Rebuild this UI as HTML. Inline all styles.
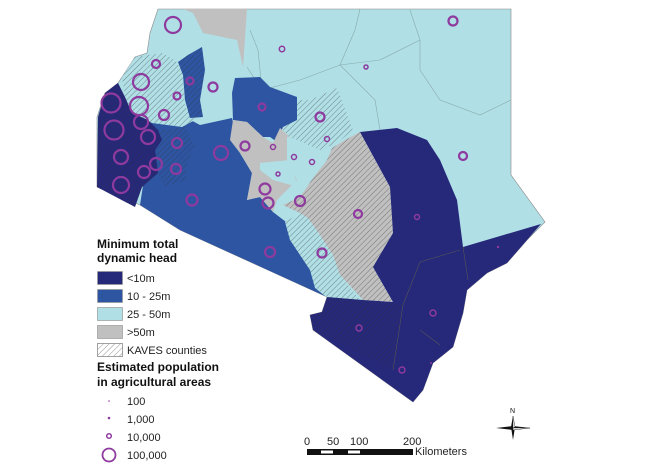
<!DOCTYPE html>
<html><head><meta charset="utf-8"><style>
html,body{margin:0;padding:0;background:#fff}
svg{display:block}
text{font-family:"Liberation Sans",Arial,sans-serif}
</style></head><body>
<svg width="646" height="470" viewBox="0 0 646 470" xmlns="http://www.w3.org/2000/svg">
<defs>
<pattern id="h" width="4" height="4" patternUnits="userSpaceOnUse" patternTransform="rotate(45)">
<line x1="0" y1="0" x2="0" y2="4" stroke="#333" stroke-width="0.7" opacity="0.75"/>
</pattern>
</defs>
<!-- base light blue outline -->
<path d="M158,9 L511,9 L511,175 L545,222 L527,240 L507,263 L487,273 L467,290 L463,313 L453,347 L433,363 L423,390 L413,402 L313,330 L310,315 L322,312 L327,297 L180,230 L140,205 L97,187 L97,117 L105,93 L118,83 L122,77 L135,57 L147,53 L150,33 Z" fill="#b0dfe6" stroke="#888" stroke-width="0.6"/>
<!-- internal county lines north -->
<g fill="none" stroke="#8aa" stroke-width="0.6">
<path d="M247,67 L262,90 L300,80 L340,65 L380,60 L420,40 L410,10"/>
<path d="M340,65 L375,100 L380,130"/>
<path d="M420,40 L420,70 L440,100 L480,115 L511,100"/>
<path d="M360,9 L355,30 L340,65"/>
<path d="M262,90 L258,50 L250,30"/>
</g>
<!-- gray top -->
<path d="M183,9 L247,9 L243,67 L237,40 L203,33 L193,13 Z" fill="#c0c0c0"/>
<!-- medium blue big south -->
<path d="M150,140 L200,128 L232,118 L240,153 L252,173 L247,200 L260,197 L273,212 L290,225 L300,250 L312,272 L327,297 L180,230 L140,205 Z" fill="#2e55a2"/>
<!-- Laikipia medium blue -->
<path d="M232,93 L235,78 L260,77 L270,87 L297,97 L297,120 L283,127 L277,142 L270,137 L263,137 L247,122 L233,120 Z" fill="#2e55a2"/>
<!-- west region medium blue (behind hatch) -->
<path d="M150,120 L185,117 L200,125 L232,118 L233,128 L200,140 L188,160 L185,180 L165,187 L150,190 Z" fill="#2e55a2"/>
<!-- central gray -->
<path d="M233,120 L247,122 L263,137 L273,143 L280,128 L290,137 L287,160 L297,180 L290,187 L277,200 L273,212 L260,197 L247,200 L252,173 L240,153 L230,140 Z" fill="#c0c0c0"/>
<!-- light blue pockets -->
<path d="M260,163 L290,160 L298,187 L273,180 L260,170 Z" fill="#b0dfe6"/>
<path d="M287,137 L313,140 L327,170 L307,180 L287,160 Z" fill="#b0dfe6"/>
<!-- gray hatched Kitui/Machakos -->
<path d="M283,205 L300,197 L313,178 L327,160 L332,148 L345,140 L360,132 L390,187 L393,233 L373,267 L393,302 L363,300 L340,275 L320,235 L300,213 Z" fill="#c0c0c0"/>
<path d="M283,205 L300,197 L313,178 L327,160 L332,148 L345,140 L360,132 L390,187 L393,233 L373,267 L393,302 L363,300 L340,275 L320,235 L300,213 Z" fill="url(#h)"/>
<!-- Makueni hatched light blue -->
<path d="M285,222 L300,213 L308,218 L320,235 L333,255 L340,275 L360,300 L330,300 L315,288 L310,270 L300,255 L290,240 Z" fill="#b0dfe6"/>
<path d="M285,222 L300,213 L308,218 L320,235 L333,255 L340,275 L360,300 L330,300 L315,288 L310,270 L300,255 L290,240 Z" fill="url(#h)"/>
<!-- northern hatched light blue (Meru etc.) -->
<path d="M280,127 L297,120 L297,100 L310,100 L337,88 L353,130 L337,143 L320,150 L290,137 Z" fill="url(#h)"/>
<!-- coast navy -->
<path d="M360,132 L397,128 L427,140 L440,160 L457,200 L463,247 L541,224 L527,240 L507,263 L487,273 L467,290 L463,313 L453,347 L433,363 L423,390 L413,402 L313,330 L310,315 L322,312 L327,297 L363,300 L393,302 L373,267 L393,233 L390,187 Z" fill="#26287a"/>
<!-- Taita Taveta hatched navy -->
<path d="M327,297 L363,300 L403,305 L393,370 L313,330 L310,315 L322,312 Z" fill="url(#h)"/>
<g fill="none" stroke="#555" stroke-width="0.6">
<path d="M403,305 L420,262 L460,250 M463,247 L468,280 M403,305 L393,370 M420,330 L440,345"/>
</g>
<!-- west: light hatched Trans Nzoia etc -->
<path d="M122,77 L135,57 L162,53 L175,60 L182,70 L185,107 L195,120 L182,127 L152,123 L132,113 L125,97 Z" fill="#b0dfe6"/>
<path d="M122,77 L135,57 L162,53 L175,60 L182,70 L185,107 L195,120 L182,127 L152,123 L132,113 L125,97 Z" fill="url(#h)"/>
<!-- stripe medium hatched -->
<path d="M178,62 L188,55 L202,47 L205,70 L200,100 L203,117 L190,118 L185,100 L183,75 Z" fill="#2e55a2"/>
<path d="M178,62 L188,55 L202,47 L205,70 L200,100 L203,117 L190,118 L185,100 L183,75 Z" fill="url(#h)"/>
<!-- Kisii etc medium hatched -->
<path d="M158,130 L185,127 L195,147 L188,160 L185,180 L165,187 L158,173 L155,150 Z" fill="url(#h)"/>
<!-- dark navy lake -->
<path d="M98,117 L105,93 L118,83 L125,97 L132,113 L148,120 L158,130 L162,140 L155,150 L158,173 L142,187 L135,207 L97,187 Z" fill="#26287a"/>
<path d="M98,117 L105,93 L118,83 L125,97 L132,113 L148,120 L158,130 L162,140 L155,150 L158,173 L142,187 L135,207 L97,187 Z" fill="url(#h)"/>
<!-- circles -->
<g fill="none" stroke="#8e3a9e" stroke-width="2.2">
<circle cx="173" cy="25" r="8"/><circle cx="156" cy="64" r="4"/><circle cx="141" cy="82" r="8"/>
<circle cx="111" cy="103" r="9.5"/><circle cx="139" cy="106" r="9"/><circle cx="141" cy="122" r="7"/>
<circle cx="114" cy="130" r="9.5"/><circle cx="148" cy="137" r="7"/><circle cx="164" cy="115" r="5"/>
<circle cx="177" cy="96" r="3.5"/><circle cx="190" cy="81" r="3.5"/><circle cx="213" cy="87" r="4.5"/>
<circle cx="262" cy="107" r="3.5"/><circle cx="177" cy="143" r="5"/><circle cx="121" cy="157" r="7"/>
<circle cx="156" cy="164" r="6"/><circle cx="144" cy="172" r="6"/><circle cx="176" cy="169" r="5"/>
<circle cx="121" cy="185" r="8"/><circle cx="192" cy="200" r="5.5"/><circle cx="221" cy="153" r="7"/>
<circle cx="245" cy="146" r="4.5"/><circle cx="320" cy="117" r="4.5"/><circle cx="265" cy="189" r="5.5"/>
<circle cx="268" cy="203" r="5.5"/><circle cx="300" cy="201" r="5"/><circle cx="358" cy="214" r="4"/>
<circle cx="453" cy="21" r="4.5"/><circle cx="463" cy="156" r="4"/><circle cx="270" cy="252" r="5"/>
<circle cx="322" cy="253" r="4.5"/>
</g>
<g fill="none" stroke="#8e3a9e" stroke-width="1.5">
<circle cx="282" cy="49" r="2.7"/><circle cx="366" cy="67" r="2"/><circle cx="273" cy="147" r="2.5"/>
<circle cx="327" cy="139" r="2.5"/><circle cx="294" cy="157" r="2.5"/><circle cx="312" cy="162" r="2.5"/>
<circle cx="278" cy="174" r="2"/><circle cx="417" cy="217" r="2.5"/><circle cx="359" cy="328" r="3"/>
<circle cx="433" cy="313" r="3"/><circle cx="402" cy="370" r="3"/>
</g>
<circle cx="498" cy="247" r="1.2" fill="#8e3a9e"/><circle cx="431" cy="363" r="1" fill="#8e3a9e"/>
<!-- legend -->
<g font-size="12" font-weight="bold" fill="#111">
<text x="97" y="248">Minimum total</text><text x="97" y="262">dynamic head</text>
<text x="97" y="371">Estimated population</text><text x="97" y="386">in agricultural areas</text>
</g>
<g stroke="#999" stroke-width="0.7">
<rect x="97.5" y="271.5" width="25" height="13" fill="#26287a"/>
<rect x="97.5" y="289.5" width="25" height="13" fill="#2e55a2"/>
<rect x="97.5" y="307.5" width="25" height="13" fill="#b0dfe6"/>
<rect x="97.5" y="325.5" width="25" height="13" fill="#c0c0c0"/>
<rect x="97.5" y="343.5" width="25" height="13" fill="#fff"/>
<rect x="97.5" y="343.5" width="25" height="13" fill="url(#h)"/>
</g>
<g font-size="11" fill="#222">
<text x="127" y="282">&lt;10m</text><text x="127" y="300">10 - 25m</text><text x="127" y="318">25 - 50m</text>
<text x="127" y="336">&gt;50m</text><text x="127" y="354">KAVES counties</text>
<text x="127" y="405">100</text><text x="127" y="423">1,000</text><text x="127" y="441">10,000</text><text x="127" y="459">100,000</text>
</g>
<circle cx="109" cy="401" r="0.8" fill="#8e3a9e"/>
<circle cx="109" cy="418" r="1.3" fill="#8e3a9e"/>
<circle cx="109" cy="436" r="2.3" fill="none" stroke="#8e3a9e" stroke-width="1.5"/>
<circle cx="109" cy="455" r="6.5" fill="none" stroke="#8e3a9e" stroke-width="1.8"/>
<!-- scale bar -->
<g font-size="11" fill="#222">
<text x="304" y="445">0</text><text x="327" y="445">50</text><text x="350" y="445">100</text><text x="403" y="445">200</text>
<text x="415" y="455">Kilometers</text>
</g>
<rect x="307" y="449" width="106" height="6" fill="#111"/>
<rect x="321" y="450.5" width="12" height="3" fill="#fff"/>
<rect x="348" y="450.5" width="12" height="3" fill="#fff"/>
<!-- compass -->
<text x="510" y="413" font-size="7" font-family="Liberation Serif,serif" fill="#111">N</text>
<path d="M513,416 L515,427 L513,440 L511,427 Z" fill="#111"/>
<path d="M496,428 L513,426 L530,428 L513,430 Z" fill="#111"/>
<path d="M513,416 L515,427 L513,428 Z" fill="#fff" stroke="#111" stroke-width="0.4"/>
<path d="M530,428 L513,430 L513,428 Z" fill="#fff" stroke="#111" stroke-width="0.4"/>
</svg>
</body></html>
